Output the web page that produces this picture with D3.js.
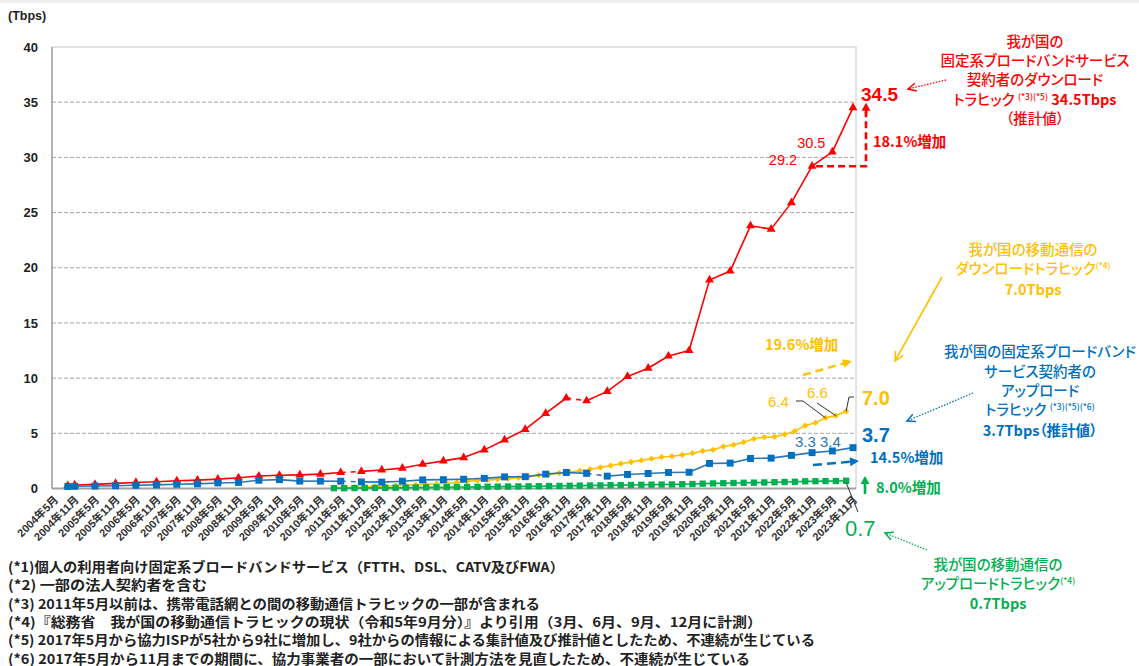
<!DOCTYPE html>
<html><head><meta charset="utf-8">
<script src="https://cdn.jsdelivr.net/npm/d3@7"></script>
<style>
body{margin:0;background:#fff;}
svg{display:block;font-family:"Liberation Sans","Noto Sans CJK JP",sans-serif;}
.jp{font-family:"Noto Sans CJK JP",sans-serif;font-feature-settings:"palt";}
</style></head><body><svg id="c" width="1139" height="666"></svg>
<script>
// ---------------- data ----------------
const xTickLabels = ["2004年5月","2004年11月","2005年5月","2005年11月","2006年5月","2006年11月","2007年5月","2007年11月","2008年5月","2008年11月","2009年5月","2009年11月","2010年5月","2010年11月","2011年5月","2011年11月","2012年5月","2012年11月","2013年5月","2013年11月","2014年5月","2014年11月","2015年5月","2015年11月","2016年5月","2016年11月","2017年5月","2017年11月","2018年5月","2018年11月","2019年5月","2019年11月","2020年5月","2020年11月","2021年5月","2021年11月","2022年5月","2022年11月","2023年5月","2023年11月"];
const yTicks = [0,5,10,15,20,25,30,35,40];
const fixedDates = ["2004-09","2004-11","2005-05","2005-11","2006-05","2006-11","2007-05","2007-11","2008-05","2008-11","2009-05","2009-11","2010-05","2010-11","2011-05","2011-11","2012-05","2012-11","2013-05","2013-11","2014-05","2014-11","2015-05","2015-11","2016-05","2016-11","2017-05","2017-11","2018-05","2018-11","2019-05","2019-11","2020-05","2020-11","2021-05","2021-11","2022-05","2022-11","2023-05","2023-11"];
const fixedDown = [0.27,0.32,0.37,0.46,0.55,0.61,0.70,0.76,0.85,0.97,1.13,1.20,1.23,1.30,1.45,1.55,1.68,1.85,2.20,2.50,2.80,3.50,4.40,5.35,6.80,8.20,7.95,8.80,10.15,10.90,12.00,12.50,18.90,19.70,23.80,23.50,25.90,29.20,30.50,34.50];
const fixedUp = [0.18,0.20,0.22,0.25,0.29,0.33,0.38,0.42,0.50,0.55,0.75,0.80,0.67,0.67,0.66,0.60,0.58,0.66,0.78,0.80,0.84,0.92,1.05,1.07,1.30,1.45,1.37,1.12,1.27,1.36,1.45,1.47,2.27,2.30,2.72,2.75,3.00,3.25,3.40,3.70];
const fixedDownBreaks = ["2011-05","2016-11"];
const fixedUpBreaks = ["2011-05","2017-05"];
const mobileDates = ["2011-03","2011-06","2011-09","2011-12","2012-03","2012-06","2012-09","2012-12","2013-03","2013-06","2013-09","2013-12","2014-03","2014-06","2014-09","2014-12","2015-03","2015-06","2015-09","2015-12","2016-03","2016-06","2016-09","2016-12","2017-03","2017-06","2017-09","2017-12","2018-03","2018-06","2018-09","2018-12","2019-03","2019-06","2019-09","2019-12","2020-03","2020-06","2020-09","2020-12","2021-03","2021-06","2021-09","2021-12","2022-03","2022-06","2022-09","2022-12","2023-03","2023-06","2023-09"];
const mobileDown = [0.10,0.12,0.14,0.16,0.19,0.22,0.25,0.28,0.33,0.37,0.43,0.48,0.55,0.66,0.72,0.78,0.83,0.90,0.97,1.08,1.20,1.28,1.40,1.50,1.60,1.75,1.90,2.08,2.25,2.40,2.55,2.70,2.85,2.92,3.05,3.20,3.40,3.50,3.80,3.95,4.20,4.50,4.65,4.68,4.90,5.20,5.70,5.95,6.40,6.60,7.00];
const mobileUp = [0.03,0.03,0.04,0.05,0.06,0.06,0.07,0.08,0.09,0.10,0.11,0.12,0.13,0.14,0.15,0.16,0.17,0.18,0.19,0.20,0.21,0.22,0.23,0.25,0.26,0.27,0.28,0.30,0.31,0.32,0.34,0.35,0.36,0.37,0.39,0.41,0.44,0.46,0.48,0.50,0.52,0.53,0.55,0.57,0.59,0.61,0.65,0.66,0.67,0.68,0.70];
const footnotes = [
 "(*1)個人の利用者向け固定系ブロードバンドサービス（FTTH、DSL、CATV及びFWA）",
 "(*2) 一部の法人契約者を含む",
 "(*3) 2011年5月以前は、携帯電話網との間の移動通信トラヒックの一部が含まれる",
 "(*4)『総務省　我が国の移動通信トラヒックの現状（令和5年9月分）』より引用（3月、6月、9月、12月に計測）",
 "(*5) 2017年5月から協力ISPが5社から9社に増加し、9社からの情報による集計値及び推計値としたため、不連続が生じている",
 "(*6) 2017年5月から11月までの期間に、協力事業者の一部において計測方法を見直したため、不連続が生じている"
];
const footnoteWidths = [556,199,532,754,807,742];

// ---------------- setup ----------------
const RED="#FF0000", ORANGE="#FFC000", BLUE="#0070C0", BLUEL="#2E75B6", GREEN="#00B050";
const parseYM = s => { const [y,m]=s.split("-").map(Number); return new Date(y,m-1,1); };
const parseJP = s => { const m=s.match(/(\d+)年(\d+)月/); return new Date(+m[1],+m[2]-1,1); };
const svg = d3.select("#c");
const L=52, R=856, T=47, B=488.5;
const x = d3.scaleTime().domain([new Date(2004,4,1), new Date(2023,10,1)]).range([54,853]);
const y = d3.scaleLinear().domain([0,40]).range([B,T]);

svg.append("rect").attr("x",0).attr("y",0).attr("width",1139).attr("height",3).attr("fill","#f0f0f0");

// grid
svg.append("g").selectAll("line").data(yTicks.filter(v=>v>0&&v<40)).join("line")
  .attr("x1",L).attr("x2",R).attr("y1",d=>y(d)).attr("y2",d=>y(d))
  .attr("stroke","#a6a6a6").attr("stroke-width",1).attr("stroke-dasharray","4,2");
svg.append("rect").attr("x",L).attr("y",T).attr("width",R-L).attr("height",B-T)
  .attr("fill","none").attr("stroke","#c8c8c8");
svg.append("line").attr("x1",L).attr("x2",L).attr("y1",T).attr("y2",B).attr("stroke","#a0a0a0").attr("stroke-width",1.5);
svg.append("line").attr("x1",L).attr("x2",R).attr("y1",B).attr("y2",B).attr("stroke","#a0a0a0").attr("stroke-width",2);

// y axis labels
const yAxis = d3.axisLeft(y).tickValues(yTicks).tickSize(0).tickPadding(14);
const ga = svg.append("g").attr("transform",`translate(${L},0)`).call(yAxis);
ga.select(".domain").remove();
ga.selectAll("text").attr("font-size",13).attr("font-weight","bold").attr("fill","#222").attr("font-family","Liberation Sans");
svg.append("text").attr("x",8).attr("y",20).attr("font-size",12.5).attr("font-weight","bold").attr("fill","#222").text("(Tbps)");

// x axis labels
svg.append("g").selectAll("text").data(xTickLabels).join("text")
  .attr("transform",d=>`translate(${x(parseJP(d))+5},${B+12}) rotate(-45)`)
  .attr("text-anchor","end").attr("font-size",11).attr("font-weight","bold").attr("fill","#333")
  .attr("font-family","Liberation Sans, Noto Sans CJK JP")
  .text(d=>d);

// series
function drawSeries(dates, vals, breaks, color, lineColor, sym, size, rot){
  const pts = dates.map((d,i)=>({d:parseYM(d), v:vals[i], k:d}));
  const g = svg.append("g");
  const line = d3.line().x(p=>x(p.d)).y(p=>y(p.v));
  for(let i=0;i<pts.length-1;i++){
    const dashed = breaks.includes(pts[i].k);
    g.append("path").attr("d",line([pts[i],pts[i+1]])).attr("fill","none")
      .attr("stroke",lineColor).attr("stroke-width",1.6)
      .attr("stroke-dasharray",dashed?"5,5":null);
  }
  g.selectAll(".m").data(pts).join("path")
    .attr("transform",p=>`translate(${x(p.d)},${y(p.v)}) rotate(${rot})`)
    .attr("d",d3.symbol(sym,size)).attr("fill",color);
  return pts;
}
const pDown = drawSeries(fixedDates, fixedDown, fixedDownBreaks, RED, RED, d3.symbolTriangle, 34, 0);
const pMDown = drawSeries(mobileDates, mobileDown, [], ORANGE, ORANGE, d3.symbolSquare, 20, 45);
const pMUp = drawSeries(mobileDates, mobileUp, [], GREEN, GREEN, d3.symbolSquare, 40, 0);
const pUp = drawSeries(fixedDates, fixedUp, fixedUpBreaks, BLUE, BLUEL, d3.symbolSquare, 48, 0);

// ---------------- annotations ----------------
function arrow(x1,y1,x2,y2,o){
  const g = svg.append("g");
  const a = Math.atan2(y2-y1,x2-x1), hs=o.head||8, hw=o.hw||4.5;
  let ex=x2, ey=y2;
  if(o.filled){ ex = x2-Math.cos(a)*hs*0.8; ey=y2-Math.sin(a)*hs*0.8; }
  g.append("line").attr("x1",x1).attr("y1",y1).attr("x2",ex).attr("y2",ey)
    .attr("stroke",o.color).attr("stroke-width",o.w||1.5).attr("stroke-dasharray",o.dash||null);
  const bx=x2-Math.cos(a)*hs, by=y2-Math.sin(a)*hs;
  const px=-Math.sin(a)*hw, py=Math.cos(a)*hw;
  if(o.filled){
    g.append("path").attr("d",`M${x2},${y2}L${bx+px},${by+py}L${bx-px},${by-py}Z`).attr("fill",o.color);
  } else {
    g.append("path").attr("d",`M${bx+px},${by+py}L${x2},${y2}L${bx-px},${by-py}`).attr("fill","none")
      .attr("stroke",o.color).attr("stroke-width",o.hwid||1.5);
  }
}
function txt(xp,yp,s,o){
  const t = svg.append("text").attr("x",xp).attr("y",yp).attr("fill",o.color)
    .attr("font-size",o.size||14).attr("font-weight",o.weight||"normal")
    .attr("text-anchor",o.anchor||"start");
  if(o.jp) t.attr("class","jp");
  t.text(s);
  return t;
}
function block(cx, lines, color){
  lines.forEach(l=>{
    const t = svg.append("text").attr("class","jp").attr("x",cx).attr("y",l.y).attr("text-anchor","middle")
      .attr("fill",color).attr("font-size",14.5).attr("font-weight",500);
    l.parts.forEach(p=>{
      const ts = t.append("tspan").text(p.t);
      if(p.sup){ ts.attr("font-size",8.5).attr("dy",-5); }
      if(p.after){ ts.attr("dy",5); }
      if(p.bold){ ts.attr("font-weight","bold"); }
    });
  });
}
const lastD = pDown[pDown.length-1], prevD = pDown[pDown.length-3], midD = pDown[pDown.length-2];
// red
txt(x(prevD.d)-15, y(prevD.v)-1, "29.2", {color:RED, anchor:"end", size:14.5});
txt(x(midD.d)-7, y(midD.v)-4, "30.5", {color:RED, anchor:"end", size:14.5});
txt(861, 101, "34.5", {color:RED, size:19, weight:"bold"});
svg.append("path").attr("d",`M${x(prevD.d)+4},${y(prevD.v)}H866V${y(lastD.v)+4}`).attr("fill","none")
  .attr("stroke",RED).attr("stroke-width",2.6).attr("stroke-dasharray","7,4");
arrow(866,y(lastD.v)+6,866,y(lastD.v)-5,{color:RED,filled:true,head:8,hw:4.5,w:2.6});
txt(873, 147, "18.1%増加", {color:RED, size:14.5, weight:"bold", jp:true});
arrow(946,80,908,89,{color:RED,dash:"1.5,1.5",w:1.3,head:8,hw:4});
block(1035,[
  {y:47, parts:[{t:"我が国の"}]},
  {y:66, parts:[{t:"固定系ブロードバンドサービス"}]},
  {y:85, parts:[{t:"契約者のダウンロード"}]},
  {y:105, parts:[{t:"トラヒック "},{t:"(*3)(*5)",sup:true},{t:" 34.5Tbps",after:true,bold:true}]},
  {y:124, parts:[{t:"（推計値）"}]}
], RED);

// orange
const m3 = pMDown[pMDown.length-3], m2 = pMDown[pMDown.length-2], m1 = pMDown[pMDown.length-1];
txt(768, 407, "6.4", {color:ORANGE, size:15});
txt(807, 398, "6.6", {color:ORANGE, size:15});
svg.append("path").attr("d",`M796,401H803L${x(m3.d)},${y(m3.v)}`).attr("fill","none").attr("stroke","#333").attr("stroke-width",1);
svg.append("path").attr("d",`M817,403L${x(m2.d)},${y(m2.v)}`).attr("fill","none").attr("stroke","#333").attr("stroke-width",1);
svg.append("path").attr("d",`M${x(m1.d)},${y(m1.v)}L849,397H854`).attr("fill","none").attr("stroke","#333").attr("stroke-width",1);
txt(862, 405, "7.0", {color:ORANGE, size:20, weight:"bold"});
txt(765, 350, "19.6%増加", {color:ORANGE, size:14.5, weight:"bold", jp:true});
arrow(803,375,852,361,{color:ORANGE,dash:"8,5",w:2.4,filled:true,head:9,hw:4.5});
arrow(942,277,895,361,{color:ORANGE,w:1.6,head:9,hw:4.5});
block(1033,[
  {y:255, parts:[{t:"我が国の移動通信の"}]},
  {y:274, parts:[{t:"ダウンロードトラヒック"},{t:"(*4)",sup:true}]},
  {y:295, parts:[{t:"7.0Tbps",bold:true}]}
], ORANGE);

// blue
txt(795, 447, "3.3", {color:BLUEL, size:15});
txt(820, 447, "3.4", {color:BLUEL, size:15});
txt(862, 442, "3.7", {color:BLUE, size:20, weight:"bold"});
txt(870, 463, "14.5%増加", {color:BLUE, size:14.5, weight:"bold", jp:true});
arrow(813,465,859,461,{color:BLUE,dash:"9,5",w:2.4,filled:true,head:9,hw:4.5});
arrow(973,393,907,421,{color:BLUE,dash:"1.5,1.5",w:1.3,head:8,hw:4});
block(1040,[
  {y:357, parts:[{t:"我が国の固定系ブロードバンド"}]},
  {y:377, parts:[{t:"サービス契約者の"}]},
  {y:396, parts:[{t:"アップロード"}]},
  {y:415, parts:[{t:"トラヒック "},{t:"(*3)(*5)(*6)",sup:true}]},
  {y:436, parts:[{t:"3.7Tbps（推計値）",bold:true}]}
], BLUE);

// green
const g1 = pMUp[pMUp.length-1];
arrow(865,494,865,476,{color:GREEN,w:2.6,filled:true,head:8,hw:4.5});
txt(876, 493, "8.0%増加", {color:GREEN, size:14.5, weight:"bold", jp:true});
svg.append("path").attr("d",`M${x(g1.d)},${y(g1.v)+2}L858,512`).attr("fill","none").attr("stroke","#333").attr("stroke-width",1);
txt(845, 536, "0.7", {color:GREEN, size:22});
arrow(927,550,885,533,{color:GREEN,dash:"1.5,1.5",w:1.3,head:8,hw:4});
block(998,[
  {y:570, parts:[{t:"我が国の移動通信の"}]},
  {y:589, parts:[{t:"アップロードトラヒック"},{t:"(*4)",sup:true}]},
  {y:609, parts:[{t:"0.7Tbps",bold:true}]}
], GREEN);

// footnotes
svg.append("g").selectAll("text").data(footnotes).join("text")
  .attr("x",8).attr("y",(d,i)=>572+i*18.3)
  .attr("font-size",13.5).attr("font-weight","bold").attr("fill","#222")
  .attr("font-family","Noto Sans CJK JP")
  .attr("textLength",(d,i)=>footnoteWidths[i]).attr("lengthAdjust","spacingAndGlyphs")
  .text(d=>d);
</script></body></html>
